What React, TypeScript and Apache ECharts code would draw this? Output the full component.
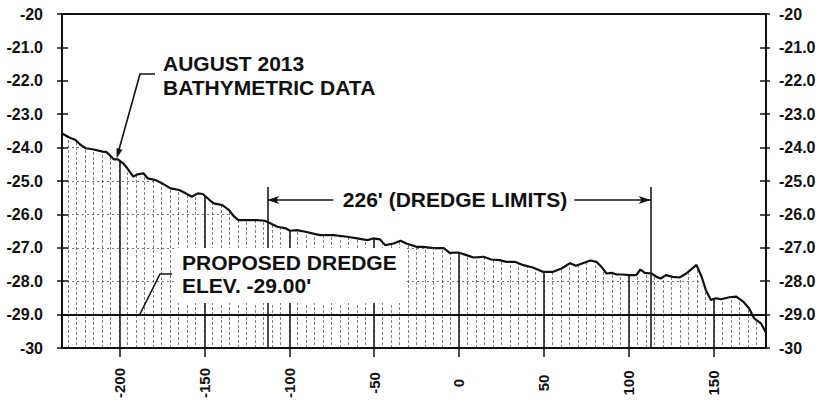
import React, { useEffect, useRef } from 'react';
import * as echarts from 'echarts';

// Bathymetric profile (station in feet, elevation in feet)
const profileX = [
  -234, -230, -226, -223, -220, -216, -210, -208, -206, -203.5, -201, -198, -195.5, -192, -189.5, -186,
  -183.5, -179, -175, -170, -165, -161, -157.5, -154, -151, -147, -144.5, -139.5, -135.5, -132.5, -130,
  -126, -119, -114.5, -111, -107, -102, -99.5, -95.5, -90.5, -86.5, -82, -74, -66, -60, -54, -50.5,
  -46.5, -43.5, -38.5, -34.5, -31, -25, -21, -15, -9, -5.5, -0.5, 4.5, 8.5, 14.5, 19, 24, 28, 33, 38,
  43.5, 49.5, 55.5, 60.5, 65.5, 69, 73, 77.5, 81, 84, 87, 90, 93, 96.5, 100.5, 104.5, 107, 109.5, 113.5,
  116.5, 119, 122, 126, 130, 134, 138, 140, 143, 145.5, 148.5, 151.5, 154.5, 159.5, 163.5, 167.5, 171,
  174, 178, 181,
];
const profileY = [
  -23.58, -23.69, -23.77, -23.92, -24.02, -24.05, -24.12, -24.13, -24.22, -24.35, -24.35, -24.47, -24.62,
  -24.87, -24.8, -24.77, -24.92, -24.97, -25.07, -25.22, -25.27, -25.37, -25.47, -25.37, -25.39, -25.57,
  -25.67, -25.72, -25.87, -26.07, -26.17, -26.17, -26.17, -26.19, -26.27, -26.37, -26.42, -26.49, -26.47,
  -26.52, -26.57, -26.62, -26.62, -26.67, -26.72, -26.77, -26.72, -26.75, -26.92, -26.87, -26.79, -26.87,
  -26.97, -26.97, -27.01, -27.01, -27.15, -27.14, -27.22, -27.29, -27.27, -27.35, -27.37, -27.42, -27.42,
  -27.52, -27.59, -27.72, -27.72, -27.62, -27.46, -27.54, -27.46, -27.38, -27.42, -27.57, -27.77, -27.75,
  -27.8, -27.8, -27.82, -27.82, -27.65, -27.75, -27.77, -27.87, -27.92, -27.82, -27.87, -27.89, -27.77,
  -27.6, -27.51, -27.86, -28.26, -28.56, -28.51, -28.54, -28.48, -28.46, -28.61, -28.81, -29.11, -29.26,
  -29.54,
];

const xTicks = [-200, -150, -100, -50, 0, 50, 100, 150];
const xTickLabels = ['-200', '-150', '-100', '-50', '0', '50', '100', '150'];
const yTicks = [-30, -29, -28, -27, -26, -25, -24, -23, -22, -21, -20];
const yTickLabels = ['-30', '-29.0', '-28.0', '-27.0', '-26.0', '-25.0', '-24.0', '-23.0', '-22.0', '-21.0', '-20'];

const xMin = -234;
const xMax = 181;
const yMin = -30;
const yMax = -20;
const dredgeElev = -29;
const dredgeLimits = [-113, 113];
const limitTop = -25.18;
const dimY = -25.57;
const dimTextGap = [-74, 68];

const FONT = '"Liberation Sans", Arial, sans-serif';
const INK = '#111';

function makeHatch(): string {
  const c = document.createElement('canvas');
  c.width = 17;
  c.height = 5;
  const g = c.getContext('2d');
  if (g) {
    g.fillStyle = 'rgba(30,30,30,0.55)';
    g.fillRect(0, 0, 1, 3);
    g.fillRect(8, 2, 1, 3);
  }
  return c.toDataURL();
}

const yLabel = (v: number) => {
  const i = yTicks.indexOf(Math.round(v));
  return i >= 0 ? yTickLabels[i] : '';
};
const xLabel = (v: number) => {
  const i = xTicks.indexOf(Math.round(v));
  return i >= 0 ? xTickLabels[i] : '';
};

export default function App() {
  const ref = useRef<HTMLDivElement>(null);
  useEffect(() => {
    if (!ref.current) return;
    const chart = echarts.init(ref.current, null, { renderer: 'svg' });
    const data = profileX.map((x, i) => [x, profileY[i]]);
    const hatch = makeHatch();
    const labelStyle = { color: INK, fontFamily: FONT, fontWeight: 'bold' as const, fontSize: 16 };
    const line = (w: number) => ({ show: true, onZero: false, lineStyle: { color: INK, width: w } });
    const noLine = { show: false, onZero: false };

    const option: any = {
      animation: false,
      backgroundColor: '#fff',
      grid: { left: 62, right: 58, top: 14, bottom: 52, outerBoundsMode: 'none', containLabel: false },
      xAxis: [
        {
          type: 'value', position: 'bottom', min: xMin, max: xMax, z: 0,
          axisLine: line(2),
          axisTick: { show: true, inside: false, length: 9, lineStyle: { color: INK, width: 1.5 }, customValues: xTicks },
          axisLabel: {
            show: true, customValues: xTicks, rotate: 90, align: 'center', verticalAlign: 'middle', margin: 35,
            formatter: xLabel, color: INK, fontFamily: FONT, fontWeight: 'bold', fontSize: 15,
          },
          splitLine: { show: true, lineStyle: { color: INK, width: 1.5 } },
        },
        {
          type: 'value', position: 'top', min: xMin, max: xMax, z: 10,
          axisLine: line(1.8), axisTick: { show: false }, axisLabel: { show: false }, splitLine: { show: false },
        },
      ],
      yAxis: [
        {
          type: 'value', position: 'left', min: yMin, max: yMax, interval: 1, z: 0,
          axisLine: noLine, axisTick: { show: false },
          axisLabel: { ...labelStyle, margin: 19, formatter: yLabel },
          splitLine: { show: true, lineStyle: { color: '#777', width: 1, type: [2, 3] } },
        },
        {
          type: 'value', position: 'left', min: yMin, max: yMax, interval: 1, z: 10,
          axisLine: line(2), axisTick: { show: true, inside: false, length: 5, lineStyle: { color: INK, width: 1.5 } },
          axisLabel: { show: false }, splitLine: { show: false },
        },
        {
          type: 'value', position: 'left', min: yMin, max: yMax, interval: 1, z: 10,
          axisLine: noLine, axisTick: { show: true, inside: true, length: 6, lineStyle: { color: INK, width: 1.5 } },
          axisLabel: { show: false }, splitLine: { show: false },
        },
        {
          type: 'value', position: 'right', min: yMin, max: yMax, interval: 1, z: 10,
          axisLine: line(2), axisTick: { show: true, inside: false, length: 4, lineStyle: { color: INK, width: 1.5 } },
          axisLabel: { ...labelStyle, margin: 13, formatter: yLabel }, splitLine: { show: false },
        },
        {
          type: 'value', position: 'right', min: yMin, max: yMax, interval: 1, z: 10,
          axisLine: noLine, axisTick: { show: true, inside: true, length: 6, lineStyle: { color: INK, width: 1.5 } },
          axisLabel: { show: false }, splitLine: { show: false },
        },
      ],
      series: [
        {
          name: 'above', type: 'line', data, symbol: 'none', silent: true, z: 2,
          xAxisIndex: 0, yAxisIndex: 0,
          lineStyle: { width: 0, opacity: 0 },
          areaStyle: { color: '#fff', opacity: 1, origin: 'end' },
        },
        {
          name: 'August 2013 bathymetric data', type: 'line', data, symbol: 'none', silent: true, z: 3,
          xAxisIndex: 0, yAxisIndex: 0,
          lineStyle: { color: INK, width: 2.2 },
          areaStyle: {
            color: { image: hatch, repeat: 'repeat', imageWidth: 17, imageHeight: 5 },
            opacity: 1, origin: 'start',
          },
          markLine: {
            silent: true, symbol: ['none', 'none'], label: { show: false },
            lineStyle: { color: INK, width: 1.5, type: 'solid' },
            data: [
              { yAxis: dredgeElev, lineStyle: { color: INK, width: 1.8, type: 'solid' } },
              [{ coord: [dredgeLimits[0], yMin] }, { coord: [dredgeLimits[0], limitTop] }],
              [{ coord: [dredgeLimits[1], yMin] }, { coord: [dredgeLimits[1], limitTop] }],
              [
                { coord: [dimTextGap[0], dimY], symbol: 'none' },
                { coord: [dredgeLimits[0], dimY], symbol: 'arrow', symbolSize: [6, 12] },
              ],
              [
                { coord: [dimTextGap[1], dimY], symbol: 'none' },
                { coord: [dredgeLimits[1], dimY], symbol: 'arrow', symbolSize: [6, 12] },
              ],
            ],
          },
        },
      ],
      graphic: [
        { type: 'rect', z: 100, shape: { x: 176, y: 248, width: 229, height: 55 }, style: { fill: '#fff' } },
        {
          type: 'text', z: 101, x: 182, y: 262,
          style: { text: 'PROPOSED DREDGE', font: `bold 21px ${FONT}`, fill: INK, textVerticalAlign: 'middle' },
        },
        {
          type: 'text', z: 101, x: 182, y: 285,
          style: { text: "ELEV. -29.00'", font: `bold 21px ${FONT}`, fill: INK, textVerticalAlign: 'middle' },
        },
        {
          type: 'polyline', z: 101, shape: { points: [[140, 314], [160, 274], [172, 274]] },
          style: { stroke: INK, lineWidth: 1.6, fill: 'none' },
        },
        {
          type: 'text', z: 101, x: 163, y: 63,
          style: { text: 'AUGUST 2013', font: `bold 21px ${FONT}`, fill: INK, textVerticalAlign: 'middle' },
        },
        {
          type: 'text', z: 101, x: 163, y: 87,
          style: { text: 'BATHYMETRIC DATA', font: `bold 21px ${FONT}`, fill: INK, textVerticalAlign: 'middle' },
        },
        {
          type: 'polyline', z: 101, shape: { points: [[155, 74], [140, 74], [118.6, 151]] },
          style: { stroke: INK, lineWidth: 1.6, fill: 'none' },
        },
        {
          type: 'polygon', z: 101, shape: { points: [[116.7, 158.5], [122.3, 149.7], [116.5, 148.1]] },
          style: { fill: INK },
        },
        {
          type: 'text', z: 101, x: 455, y: 199,
          style: {
            text: "226' (DREDGE LIMITS)", font: `bold 21px ${FONT}`, fill: INK,
            textAlign: 'center', textVerticalAlign: 'middle',
          },
        },
      ],
    };
    chart.setOption(option);
    return () => chart.dispose();
  }, []);

  return (
    <div
      ref={ref}
      style={{ position: 'fixed', left: 0, top: 0, width: 824, height: 400, background: '#fff' }}
    />
  );
}
